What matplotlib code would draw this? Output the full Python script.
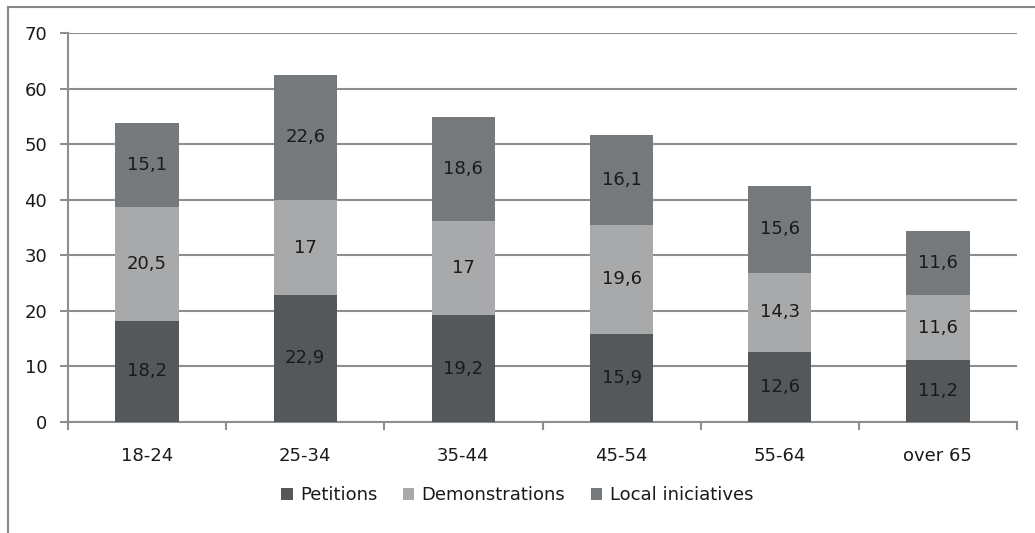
import matplotlib
matplotlib.use("Agg")
import matplotlib.pyplot as plt
from matplotlib.lines import Line2D
import numpy as np

categories = ["18-24", "25-34", "35-44", "45-54", "55-64", "over 65"]
petitions = [18.2, 22.9, 19.2, 15.9, 12.6, 11.2]
demonstrations = [20.5, 17, 17, 19.6, 14.3, 11.6]
local_initiatives = [15.1, 22.6, 18.6, 16.1, 15.6, 11.6]
series_names = ["Petitions", "Demonstrations", "Local iniciatives"]
colors = ["#55585a", "#a7a9aa", "#76797c"]
yticks = [0, 10, 20, 30, 40, 50, 60, 70]

fs = 13
fig = plt.figure(figsize=(10.35, 5.33), dpi=100)
ax = fig.add_axes([68/1035, 1-422/533, (1017-68)/1035, (422-33)/533])

x = np.arange(len(categories))
series = [petitions, demonstrations, local_initiatives]
bottom = np.zeros(len(categories))
grid_c = "#8e8e8e"
for vals, c, name in zip(series, colors, series_names):
    ax.bar(x, vals, 0.4, bottom=bottom, color=c, label=name, zorder=3)
    for xi, b, v in zip(x, bottom, vals):
        txt = f"{v:g}".replace(".", ",")
        ax.text(xi, b + v/2, txt, ha="center", va="center", fontsize=fs,
                color="#1a1a1a", zorder=4)
    bottom += np.array(vals)

ax.set_xlim(-0.5, len(categories)-0.5)
ax.set_ylim(0, 70)
ax.set_yticks(yticks)
ax.set_yticklabels([str(v) for v in yticks], fontsize=fs, color="#1a1a1a")
ax.yaxis.grid(True, color=grid_c, linewidth=1.5, zorder=0)
ax.set_axisbelow(True)

ax.set_xticks(np.arange(-0.5, len(categories)+0.5, 1))
ax.set_xticklabels([])
ax.set_xticks(x, minor=True)
ax.set_xticklabels(categories, minor=True, fontsize=fs, color="#1a1a1a")
ax.tick_params(axis="x", which="minor", length=0, pad=18)
ax.tick_params(axis="x", which="major", length=6, color=grid_c, width=1.5, direction="out")
ax.tick_params(axis="y", length=6, color=grid_c, width=1.5, pad=9)

for s in ["top", "right"]:
    ax.spines[s].set_visible(False)
for s in ["left", "bottom"]:
    ax.spines[s].set_color(grid_c)
    ax.spines[s].set_linewidth(1.5)

leg = fig.legend(loc="center", bbox_to_anchor=(517/1035, 1-495/533), ncol=3,
                 frameon=False, fontsize=fs, handlelength=0.65, handleheight=0.65,
                 handletextpad=0.4, columnspacing=1.4)
for t in leg.get_texts():
    t.set_color("#1a1a1a")

# outer chart-area border (partially visible)
fig.add_artist(Line2D([8/1035, 8/1035], [0, 1-7/533], transform=fig.transFigure,
                      color="#888888", linewidth=1.5))
fig.add_artist(Line2D([8/1035, 1], [1-7/533, 1-7/533], transform=fig.transFigure,
                      color="#888888", linewidth=1.5))

fig.savefig("out.png", dpi=100)
